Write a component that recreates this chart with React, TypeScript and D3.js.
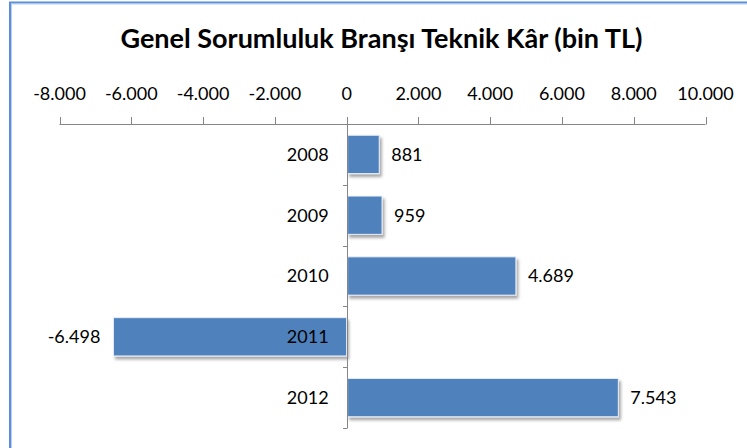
import React from "react";
import * as d3 from "d3";

const years = ["2008", "2009", "2010", "2011", "2012"];
const values = [881, 959, 4689, -6498, 7543];
const tickValues = [-8000, -6000, -4000, -2000, 0, 2000, 4000, 6000, 8000, 10000];
const titleText = "Genel Sorumluluk Branşı Teknik Kâr (bin TL)";

const fmt = (v: number) => {
  const s = Math.abs(v).toString().replace(/\B(?=(\d{3})+(?!\d))/g, ".");
  return (v < 0 ? "-" : "") + s;
};

export default function App() {
  const W = 747;
  const H = 448;
  const x = d3.scaleLinear().domain([-8000, 10000]).range([59.5, 705.5]);
  const y = d3.scaleBand<string>().domain(years).range([124, 428]).paddingInner(0.37).paddingOuter(0.185);
  const step = y.step();
  const font = "Lato, 'Open Sans', sans-serif";
  const x0 = x(0);
  const axisColor = "#868686";

  return (
    <svg
      width={W}
      height={H}
      style={{ position: "absolute", left: 0, top: 0, background: "#fff" }}
      fontFamily={font}
    >
      <defs>
        <filter id="sh" x="-10%" y="-20%" width="130%" height="160%">
          <feDropShadow dx="2" dy="3" stdDeviation="1.6" floodColor="#000" floodOpacity="0.35" />
        </filter>
      </defs>
      <rect x={0} y={0} width={W} height={H} fill="#fff" />
      <rect x={10} y={2.5} width={W + 20} height={H + 20} fill="none" stroke="#5b8fd6" strokeWidth={2} />
      <rect x={11.5} y={4} width={W + 20} height={H + 20} fill="none" stroke="#aac4e8" strokeWidth={0.8} />

      <text x={381.5} y={48} textAnchor="middle" fontWeight="bold" fontSize={27} fill="#000">
        {titleText}
      </text>

      {/* top axis */}
      <line x1={x(-8000)} x2={x(10000)} y1={124.5} y2={124.5} stroke={axisColor} strokeWidth={1} />
      {tickValues.map((t) => (
        <g key={t}>
          <line x1={Math.round(x(t)) + 0.5} x2={Math.round(x(t)) + 0.5} y1={117} y2={124.5} stroke={axisColor} />
          <text x={x(t)} y={100} textAnchor="middle" fontSize={18} fill="#000">
            {fmt(t)}
          </text>
        </g>
      ))}

      {/* bars */}
      {years.map((yr, i) => {
        const v = values[i];
        const bx = Math.min(x(v), x0);
        const bw = Math.abs(x(v) - x0);
        const by = y(yr)!;
        const bh = y.bandwidth();
        return (
          <rect
            key={yr}
            x={bx + (v > 0 ? 1 : 0)}
            y={by}
            width={bw}
            height={bh}
            fill="#4f81bd"
            stroke="#e8eef7"
            strokeWidth={1}
            filter="url(#sh)"
          />
        );
      })}

      {/* vertical axis */}
      <line x1={Math.round(x0) + 0.5} x2={Math.round(x0) + 0.5} y1={117} y2={428} stroke={axisColor} />
      {d3.range(years.length + 1).map((k) => {
        const yy = Math.round(124 + k * step) + 0.5;
        return k === 0 ? null : (
          <line key={k} x1={Math.round(x0) - 4} x2={Math.round(x0) + 0.5} y1={yy} y2={yy} stroke={axisColor} />
        );
      })}

      {/* category labels */}
      {years.map((yr) => (
        <text
          key={yr}
          x={x0 - 18}
          y={y(yr)! + y.bandwidth() / 2}
          dy="0.35em"
          textAnchor="end"
          fontSize={18}
          fill="#000"
        >
          {yr}
        </text>
      ))}

      {/* data labels */}
      {years.map((yr, i) => {
        const v = values[i];
        return (
          <text
            key={yr}
            x={v >= 0 ? x(v) + 13 : x(v) - 13}
            y={y(yr)! + y.bandwidth() / 2}
            dy="0.35em"
            textAnchor={v >= 0 ? "start" : "end"}
            fontSize={18}
            fill="#000"
          >
            {fmt(v)}
          </text>
        );
      })}
    </svg>
  );
}
